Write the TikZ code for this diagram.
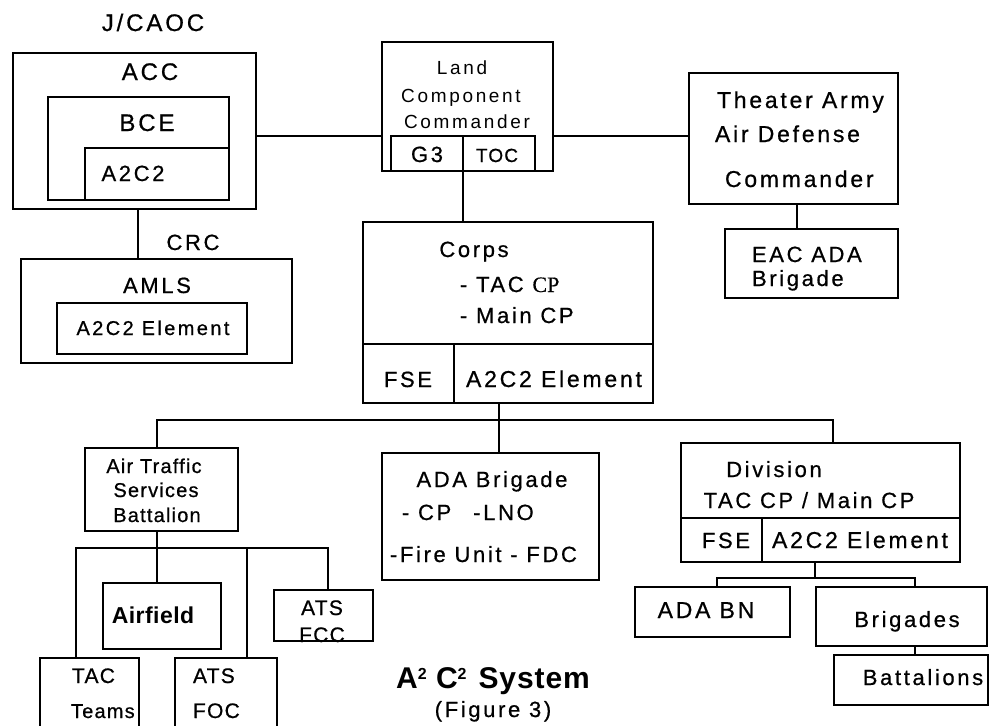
\documentclass[tikz,border=0pt]{standalone}
\usepackage{fontspec}
\setmainfont{Liberation Sans}[LetterSpace=12, FakeBold=0.7]
\newfontfamily\srf{Liberation Serif}[FakeBold=0.5]
\newfontfamily\landfont{Liberation Sans}[LetterSpace=14]
\newfontfamily\tight{Liberation Sans}[LetterSpace=6, FakeBold=0.7]
\newfontfamily\boldf{Liberation Sans Bold}[LetterSpace=2]
\newfontfamily\titlefont{Liberation Sans Bold}[LetterSpace=3]
\newcommand\fs[1]{\fontsize{#1}{#1}\selectfont}
\newcommand\supr[1]{\raisebox{8.5pt}{\fontsize{16}{16}\selectfont #1}}
\tikzset{
 bx/.style={draw, line width=1.2pt, inner sep=0pt, outer sep=0pt, anchor=north west},
 ln/.style={line width=1.2pt},
 tx/.style={inner sep=0pt, outer sep=0pt, anchor=base, font=\fs{22}},
 txl/.style={tx, anchor=base west},
 big/.style={font=\fs{24}},
}
\newcommand\mkbox[5]{\node[bx, minimum width={#4-#2}, minimum height={#5-#3}] (#1) at (#2,#3) {};}
\begin{document}
\begin{tikzpicture}[x=1pt,y=-1pt]
\useasboundingbox (0,0) rectangle (989,726);
% boxes
\mkbox{acc}{13}{53}{256}{209}
\mkbox{bce}{48}{97}{229}{200}
\mkbox{accA}{85}{148}{229}{200}
\mkbox{land}{382}{42}{553}{171}
\mkbox{g3}{391}{136}{463}{171}
\mkbox{toc}{463}{136}{535}{171}
\mkbox{tada}{689}{73}{898}{204}
\mkbox{eac}{725}{229}{898}{298}
\mkbox{amls}{21}{259}{292}{363}
\mkbox{amlsA}{57}{303}{247}{354}
\mkbox{corps}{363}{222}{653}{403}
\mkbox{corpsF}{363}{344}{454}{403}
\mkbox{corpsA}{454}{344}{653}{403}
\mkbox{atsb}{85}{448}{238}{531}
\mkbox{airf}{103}{583}{221}{649}
\mkbox{fcc}{274}{590}{373}{641}
\mkbox{tac}{40}{658}{139}{729}
\mkbox{foc}{175}{658}{277}{729}
\mkbox{adab}{382}{453}{599}{580}
\mkbox{div}{681}{443}{960}{562}
\mkbox{divF}{681}{518}{762}{562}
\mkbox{divA}{762}{518}{960}{562}
\mkbox{adabn}{635}{587}{790}{637}
\mkbox{brig}{816}{587}{987}{646}
\mkbox{batt}{834}{655}{988}{705}
% connectors
\coordinate (h1) at (0,136);
\draw[ln] (acc.east |- h1) -- (land.west |- h1);
\draw[ln] (land.east |- h1) -- (tada.west |- h1);
\draw[ln] (g3.south east) -- (corps.north -| g3.south east);
\coordinate (v1) at (797,0);
\draw[ln] (tada.south -| v1) -- (eac.north -| v1);
\coordinate (v2) at (138,0);
\draw[ln] (acc.south -| v2) -- (amls.north -| v2);
\coordinate (b1) at (499,420);
\coordinate (bL) at (157,420);
\coordinate (bR) at (833,420);
\draw[ln] (corps.south -| b1) -- (b1);
\draw[ln] (atsb.north -| bL) -- (bL) -- (bR) -- (div.north -| bR);
\draw[ln] (b1) -- (adab.north -| b1);
\coordinate (s0) at (157,548);
\coordinate (sL) at (76,548);
\coordinate (sR) at (328,548);
\coordinate (s3) at (247,548);
\draw[ln] (atsb.south -| s0) -- (s0);
\draw[ln] (tac.north -| sL) -- (sL) -- (sR) -- (fcc.north -| sR);
\draw[ln] (s0) -- (airf.north -| s0);
\draw[ln] (s3) -- (foc.north -| s3);
\coordinate (d0) at (815,578);
\coordinate (dL) at (717,578);
\coordinate (dR) at (915,578);
\draw[ln] (div.south -| d0) -- (d0);
\draw[ln] (adabn.north -| dL) -- (dL) -- (dR) -- (brig.north -| dR);
\draw[ln] (brig.south -| dR) -- (batt.north -| dR);
% texts
\node[tx,big] (tj) at (153,31) {J/CAOC};
\node[tx,big] (tacc) at (150,80) {ACC};
\node[tx,big] (tbce) at (147,131) {BCE};
\node[tx] (ta2) at (133,181) {A2C2};
\node[tx,font=\landfont\fs{19}] (tl1) at (462,74) {Land};
\node[tx,font=\landfont\fs{19}] (tl2) at (461,102) {Component};
\node[tx,font=\landfont\fs{19}] (tl3) at (467,128) {Commander};
\node[tx] (tg3) at (427,162) {G3};
\node[tx,font=\tight\fs{19}] (ttoc) at (497,162) {TOC};
\node[txl,font=\fs{23}] (tt1) at (717,108) {Theater Army};
\node[txl,font=\fs{23}] (tt2) at (715,142) {Air Defense};
\node[txl,font=\fs{23}] (tt3) at (725,187) {Commander};
\node[txl] (te1) at (752,262) {EAC ADA};
\node[txl] (te2) at (752,286) {Brigade};
\node[tx] (tcrc) at (193,250) {CRC};
\node[tx] (tamls) at (157,293) {AMLS};
\node[tx,font=\fs{20}] (tamlsA) at (153,335) {A2C2 Element};
\node[tx] (tcorps) at (474,257) {Corps};
\node[txl] (tc1) at (460,292) {- TAC {\srf CP}};
\node[txl] (tc2) at (460,323) {- Main CP};
\node[tx] (tcf) at (408,387) {FSE};
\node[tx,font=\fs{23}] (tca) at (554,387) {A2C2 Element};
\node[tx,font=\tight\fs{20}] (ta1) at (154,473) {Air Traffic};
\node[tx,font=\tight\fs{20}] (ta2b) at (156,497) {Services};
\node[tx,font=\tight\fs{20}] (ta3) at (157,522) {Battalion};
\node[tx,font=\boldf\fs{23}] (tairf) at (153,623) {Airfield};
\node[tx,font=\tight\fs{21}] (tf1) at (322,615) {ATS};
\node[tx,font=\tight\fs{21}] (tf2) at (322,642) {FCC};
\node[txl,font=\tight\fs{21}] (tt4) at (72,683) {TAC};
\node[txl,font=\tight\fs{20}] (tt5) at (71,718) {Teams};
\node[txl,font=\tight\fs{21}] (to1) at (193,683) {ATS};
\node[txl,font=\tight\fs{21}] (to2) at (193,718) {FOC};
\node[tx] (tad1) at (492,487) {ADA Brigade};
\node[txl] (tad2) at (402,520) {- CP\hspace{22pt}-LNO};
\node[txl] (tad3) at (390,562) {-Fire Unit - FDC};
\node[tx,font=\titlefont\fs{30}] (ttitle) at (493,688) {A\supr{2} C\supr{2}\hspace{12pt}System};
\node[tx] (tfig) at (493,717) {(Figure 3)};
\node[tx] (td1) at (774,477) {Division};
\node[tx] (td2) at (809,508) {TAC CP / Main CP};
\node[tx] (td3) at (726,548) {FSE};
\node[tx,font=\fs{23}] (td4) at (860,548) {A2C2 Element};
\node[tx,font=\fs{23}] (tbn) at (706,618) {ADA BN};
\node[tx] (tbr) at (907,627) {Brigades};
\node[tx] (tbt) at (923,685) {Battalions};
\end{tikzpicture}
\end{document}
